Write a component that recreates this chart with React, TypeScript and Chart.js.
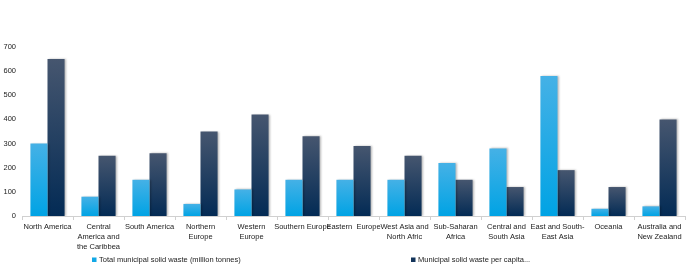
import React, { useEffect, useRef } from "react";
import { Chart, registerables } from "chart.js";

Chart.register(...registerables);

const categories: (string | string[])[] = [
  "North America",
  ["Central", "America and", "the Caribbea"],
  "South America",
  ["Northern", "Europe"],
  ["Western", "Europe"],
  "Southern Europe",
  "Eastern  Europe",
  ["West Asia and", "North Afric"],
  ["Sub-Saharan", "Africa"],
  ["Central and", "South Asia"],
  ["East and South-", "East Asia"],
  "Oceania",
  ["Australia and", "New Zealand"],
];

const totalWaste = [300, 80, 150, 50, 110, 150, 150, 150, 220, 280, 580, 30, 40];
const perCapita = [650, 250, 260, 350, 420, 330, 290, 250, 150, 120, 190, 120, 400];

const seriesNames = [
  "Total municipal solid waste (million tonnes)",
  "Municipal solid waste per capita...",
];

const yMax = 700;
const yStep = 100;

const FONT = "'Liberation Sans', Arial, sans-serif";

function gradientFor(top: string, bottom: string) {
  return (ctx: any) => {
    const chart = ctx.chart;
    const y = chart.scales?.y;
    if (!y || ctx.type !== "data") return bottom;
    const v = ctx.raw as number;
    const y0 = y.getPixelForValue(v);
    const y1 = y.getPixelForValue(0);
    if (!isFinite(y0) || !isFinite(y1) || y0 === y1) return bottom;
    const g = chart.ctx.createLinearGradient(0, y0, 0, y1);
    g.addColorStop(0, top);
    g.addColorStop(1, bottom);
    return g;
  };
}

const legendPlugin = {
  id: "customLegend",
  afterDraw(chart: any) {
    const ctx = chart.ctx;
    const xs = [92, 411];
    const yc = 260;
    ctx.save();
    ctx.font = `7.5px ${FONT}`;
    ctx.textBaseline = "middle";
    ctx.textAlign = "left";
    chart.data.datasets.forEach((ds: any, i: number) => {
      ctx.fillStyle = ds.legendColor;
      ctx.fillRect(xs[i], yc - 2.5, 4.5, 4.5);
      ctx.fillStyle = "#222";
      ctx.fillText(ds.label, xs[i] + 7, yc);
    });
    ctx.restore();
  },
};

const shadowPlugin = {
  id: "barShadow",
  beforeDatasetsDraw(chart: any) {
    const ctx = chart.ctx;
    ctx.save();
    ctx.shadowColor = "rgba(0,0,0,0.28)";
    ctx.shadowBlur = 2;
    ctx.shadowOffsetX = 1.5;
    ctx.shadowOffsetY = 0;
  },
  afterDatasetsDraw(chart: any) {
    chart.ctx.restore();
  },
};

export default function App() {
  const ref = useRef<HTMLCanvasElement | null>(null);
  useEffect(() => {
    document.body.style.margin = "0";
    if (!ref.current) return;
    const chart = new Chart(ref.current, {
      type: "bar",
      data: {
        labels: categories,
        datasets: [
          {
            label: seriesNames[0],
            data: totalWaste,
            backgroundColor: gradientFor("#45b1e6", "#00a3e4"),
            legendColor: "#12a8e6",
            barPercentage: 1,
            categoryPercentage: 0.67,
          } as any,
          {
            label: seriesNames[1],
            data: perCapita,
            backgroundColor: gradientFor("#46566f", "#032b55"),
            legendColor: "#13345a",
            barPercentage: 1,
            categoryPercentage: 0.67,
          } as any,
        ],
      },
      options: {
        responsive: false,
        animation: false,
        maintainAspectRatio: false,
        layout: { padding: { top: 47, right: 13, left: 0, bottom: 0 } },
        plugins: {
          legend: { display: false },
          tooltip: { enabled: false },
        },
        scales: {
          x: {
            offset: true,
            grid: {
              display: true,
              offset: true,
              drawOnChartArea: false,
              drawTicks: true,
              tickLength: 4,
              color: "#d0d0d0",
            },
            border: { display: true, color: "#d0d0d0" },
            ticks: {
              autoSkip: false,
              maxRotation: 0,
              minRotation: 0,
              color: "#222",
              font: { family: FONT, size: 7.5, lineHeight: 1.35 },
              padding: 2,
            },
            afterFit: (s: any) => {
              s.height = 57;
            },
          },
          y: {
            min: 0,
            max: yMax,
            ticks: {
              stepSize: yStep,
              color: "#222",
              font: { family: FONT, size: 7.5 },
              padding: 6,
            },
            grid: { display: false, drawTicks: false, tickLength: 0 },
            border: { display: false },
            afterFit: (s: any) => {
              s.width = 22;
            },
          },
        },
      },
      plugins: [shadowPlugin, legendPlugin],
    });
    return () => chart.destroy();
  }, []);
  return (
    <div style={{ width: 698, height: 273, background: "#fff" }}>
      <canvas ref={ref} width={698} height={273} style={{ width: 698, height: 273, display: "block" }} />
    </div>
  );
}
